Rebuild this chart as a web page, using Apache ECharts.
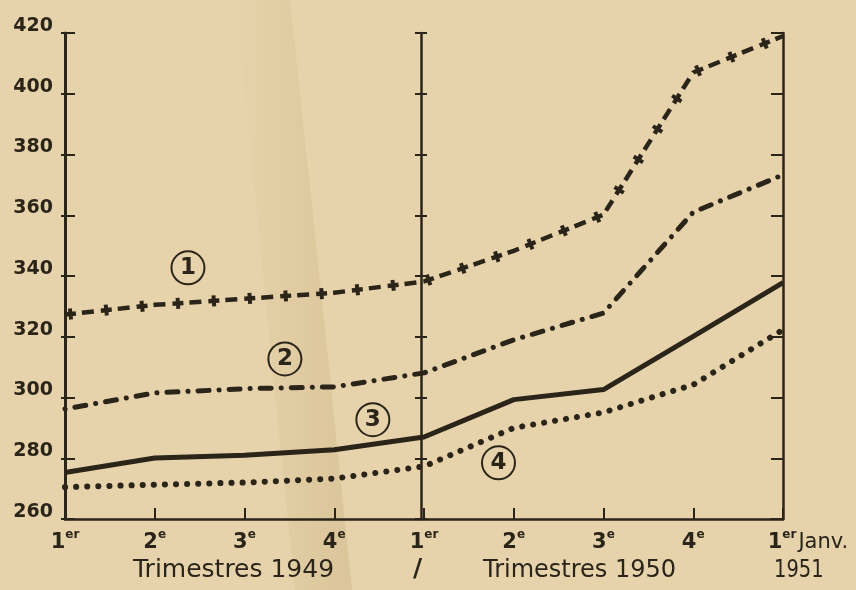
<!DOCTYPE html>
<html>
<head>
<meta charset="utf-8">
<script src="https://cdn.jsdelivr.net/npm/echarts@6/dist/echarts.min.js"></script>
<style>
html,body{margin:0;padding:0;background:#e6d3ab;}
#c{width:856px;height:590px;}
</style>
</head>
<body>
<div id="c"></div>
<script>
// tick labels (quarters)
const tickNum = ['1','2','3','4','1','2','3','4','1'];
const tickSup = ['er','e','e','e','er','e','e','e','er'];
const lastTail = 'Janv.';
const periodLabels = ['Trimestres 1949', 'Trimestres 1950', '1951'];
// series values (index)
const s1 = [327.3, 330.5, 332.5, 334.5, 338.2, 348.3, 360.2, 407.0, 419.0];
const s2 = [296.2, 301.5, 302.9, 303.5, 308.1, 319.0, 327.8, 361.0, 373.3];
const s3 = [275.3, 280.1, 281.0, 282.8, 287.0, 299.3, 302.6, 320.1, 337.8];
const s4 = [270.5, 271.3, 272.0, 273.3, 277.3, 290.0, 295.1, 304.2, 322.3];
// curve annotations (circled numbers) in data coordinates
const annoText = ['1', '2', '3', '4'];
const annoX = [1.37, 2.45, 3.43, 4.83];
const annoY = [342.7, 312.7, 292.7, 278.5];

const INK = '#2b2419';
const FONT = 'DejaVu Sans';
const pts = a => a.map((v, i) => [i, v]);

function anno(k) {
  return {
    silent: true,
    symbol: 'circle',
    symbolSize: 33,
    itemStyle: { color: 'rgba(0,0,0,0)', borderColor: INK, borderWidth: 2 },
    label: { show: true, position: 'inside', formatter: annoText[k], color: INK,
             fontFamily: FONT, fontWeight: 'bold', fontSize: 23 },
    data: [{ coord: [annoX[k], annoY[k]] }]
  };
}

const chart = echarts.init(document.getElementById('c'), null, { renderer: 'canvas' });
const yCommon = { type: 'value', min: 260, max: 420, interval: 20, splitLine: { show: false } };
chart.setOption({
  backgroundColor: '#e6d3ab',
  animation: false,
  grid: { left: 65, right: 73, top: 33, bottom: 71 },
  graphic: [
    { type: 'polygon', z: -10, silent: true,
      shape: { points: [[235, 0], [290, 0], [322, 300], [352, 590], [295, 590]] },
      style: { fill: new echarts.graphic.LinearGradient(0, 0, 1, 0, [
        { offset: 0, color: 'rgba(150,110,50,0)' },
        { offset: 1, color: 'rgba(150,110,50,0.14)' }]) } },
    { type: 'text', left: 133, top: 558, silent: true,
      style: { text: periodLabels[0], font: '25px "DejaVu Sans"', fill: INK } },
    { type: 'text', left: 413, top: 557, silent: true,
      style: { text: '/', font: 'bold 25px "DejaVu Sans"', fill: INK } },
    { type: 'text', left: 483, top: 559, silent: true,
      style: { text: periodLabels[1], font: '24px "DejaVu Sans"', fill: INK } },
    { type: 'text', x: 774, y: 558, scaleX: 0.78, silent: true,
      style: { text: periodLabels[2], font: '25px "DejaVu Sans"', fill: INK } }
  ],
  xAxis: {
    type: 'value', min: 0, max: 8, interval: 1,
    splitLine: { show: false },
    axisLine: { show: true, lineStyle: { color: INK, width: 2.5 } },
    axisTick: { show: true, inside: true, length: 11, lineStyle: { color: INK, width: 2 } },
    axisLabel: {
      margin: 10, color: INK, showMinLabel: true, showMaxLabel: true,
      formatter: function (val) {
        const i = Math.round(val);
        let s = '{n|' + tickNum[i] + '}{s|' + tickSup[i] + '}';
        if (i === tickNum.length - 1) s = '{sp| }' + s + '{j|' + lastTail + '}';
        return s;
      },
      rich: {
        n: { fontFamily: FONT, fontWeight: 'bold', fontSize: 21, color: INK, lineHeight: 24, verticalAlign: 'bottom' },
        s: { fontFamily: FONT, fontWeight: 'bold', fontSize: 12, color: INK, lineHeight: 24, verticalAlign: 'top', padding: [0, 0, 10, 0] },
        j: { fontFamily: FONT, fontSize: 21, color: INK, lineHeight: 24, verticalAlign: 'bottom', padding: [0, 0, 0, 2] },
        sp: { width: 50, fontSize: 12 }
      }
    }
  },
  yAxis: [
    Object.assign({}, yCommon, {
      position: 'left',
      axisLine: { show: true, lineStyle: { color: INK, width: 3 } },
      axisTick: { show: true, inside: true, length: 10, lineStyle: { color: INK, width: 2 } },
      axisLabel: { color: INK, fontFamily: FONT, fontWeight: 'bold', fontSize: 19, margin: 12,
                   verticalAlign: 'bottom', lineHeight: 14 }
    }),
    Object.assign({}, yCommon, {
      position: 'left',
      axisLine: { show: false },
      axisTick: { show: true, inside: false, length: 4, lineStyle: { color: INK, width: 2 } },
      axisLabel: { show: false }
    }),
    Object.assign({}, yCommon, {
      position: 'left', offset: -356,
      axisLine: { show: true, lineStyle: { color: INK, width: 2.5 } },
      axisTick: { show: true, inside: true, length: 6, lineStyle: { color: INK, width: 2 } },
      axisLabel: { show: false }
    }),
    Object.assign({}, yCommon, {
      position: 'left', offset: -356,
      axisLine: { show: false },
      axisTick: { show: true, inside: false, length: 6, lineStyle: { color: INK, width: 2 } },
      axisLabel: { show: false }
    }),
    Object.assign({}, yCommon, {
      position: 'right',
      axisLine: { show: true, lineStyle: { color: INK, width: 2.5 } },
      axisTick: { show: true, inside: true, length: 12, lineStyle: { color: INK, width: 2 } },
      axisLabel: { show: false }
    })
  ],
  series: [
    { name: '1', type: 'line', data: pts(s1), showSymbol: false, silent: true, z: 5,
      lineStyle: { color: INK, width: 4.5, type: [11, 6, 12, 7], cap: 'butt' },
      markPoint: anno(0) },
    { name: '1b', type: 'line', data: pts(s1), showSymbol: false, silent: true, z: 5,
      lineStyle: { color: INK, width: 11, type: [0.001, 3.5, 4, 28.5], cap: 'butt' } },
    { name: '2', type: 'line', data: pts(s2), showSymbol: false, silent: true, z: 5,
      lineStyle: { color: INK, width: 5, type: [0.1, 10, 11, 10], cap: 'round' },
      markPoint: anno(1) },
    { name: '3', type: 'line', data: pts(s3), showSymbol: false, silent: true, z: 5,
      lineStyle: { color: INK, width: 5, type: 'solid' },
      markPoint: anno(2) },
    { name: '4', type: 'line', data: pts(s4), showSymbol: false, silent: true, z: 5,
      lineStyle: { color: INK, width: 6, type: [0.1, 11], cap: 'round' },
      markPoint: anno(3) }
  ]
});
</script>
</body>
</html>
